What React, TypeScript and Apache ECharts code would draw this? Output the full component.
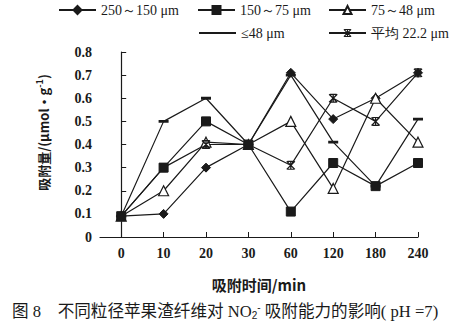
import React, { useEffect, useRef } from "react";
import * as echarts from "echarts";

const categories = ["0", "10", "20", "30", "60", "120", "180", "240"];
const seriesNames = ["250～150 μm", "150～75 μm", "75～48 μm", "≤48 μm", "平均 22.2 μm"];
const s250_150 = [0.09, 0.1, 0.3, 0.4, 0.71, 0.51, 0.6, 0.71];
const s150_75 = [0.09, 0.3, 0.5, 0.4, 0.11, 0.32, 0.22, 0.32];
const s75_48 = [0.09, 0.2, 0.41, 0.4, 0.5, 0.21, 0.6, 0.41];
const s48 = [0.09, 0.5, 0.6, 0.4, 0.7, 0.41, 0.22, 0.51];
const sAvg = [0.09, 0.3, 0.4, 0.4, 0.31, 0.6, 0.5, 0.71];
const yTicks = [0, 0.1, 0.2, 0.3, 0.4, 0.5, 0.6, 0.7, 0.8];

const INK = "#1a1a1a";
const STAR =
  "path://M4.3,0L5.7,0L5.7,10L4.3,10Z" +
  "M0,1L1,0L10,9L9,10Z" +
  "M9,0L10,1L1,10L0,9Z" +
  "M1.5,0L8.5,0L8.5,1.3L1.5,1.3Z" +
  "M1.5,8.7L8.5,8.7L8.5,10L1.5,10Z";
// flat bar; two invisible specks keep the path's box square
const DASH =
  "path://M0,0L0.01,0L0.01,0.01Z M0,10L0.01,10L0.01,9.99Z M0,3.6L10,3.6L10,6.4L0,6.4Z";

export default function App() {
  const ref = useRef<HTMLDivElement>(null);
  useEffect(() => {
    if (!ref.current) return;
    const chart = echarts.init(ref.current, null, { renderer: "svg" });
    const toPairs = (arr: number[]) => arr.map((v, i) => [i, v]);
    const base = (name: string, data: number[], extra: any) => ({
      name,
      type: "line",
      data: toPairs(data),
      lineStyle: { color: INK, width: 1.2 },
      itemStyle: { color: INK, borderColor: INK, borderWidth: 1 },
      ...extra,
    });
    const legendTextStyle = { fontFamily: "Liberation Serif", fontSize: 14, color: INK };
    const mkLegend = (item: any, left: number, top: number) => ({
      data: [item],
      left,
      top,
      itemWidth: 37,
      itemHeight: 10,
      itemGap: 0,
      padding: 0,
      textStyle: legendTextStyle,
    });
    const serifBold = { fontFamily: "Liberation Serif", fontWeight: "bold", fontSize: 14, color: INK };
    chart.setOption({
      animation: false,
      backgroundColor: "#fff",
      grid: { left: 100, right: 36, top: 52, bottom: 92 },
      legend: [
        mkLegend(seriesNames[0], 58, 3),
        mkLegend(seriesNames[1], 197, 3),
        mkLegend(seriesNames[2], 328, 3),
        mkLegend(seriesNames[3], 198, 26),
        mkLegend(seriesNames[4], 328, 26),
      ],
      xAxis: {
        type: "value",
        min: -0.5,
        max: categories.length - 1,
        splitLine: { show: false },
        axisLine: { show: true, onZero: false, lineStyle: { color: INK, width: 1.2 } },
        axisTick: {
          show: true,
          inside: true,
          length: 5,
          customValues: categories.map((_, i) => i),
          lineStyle: { color: INK },
        },
        axisLabel: {
          customValues: categories.map((_, i) => i),
          formatter: (v: number) => categories[Math.round(v)] ?? "",
          margin: 9,
          ...serifBold,
        },
        name: "吸附时间/min",
        nameLocation: "middle",
        nameGap: 40,
        nameTextStyle: { fontFamily: "Noto Sans CJK SC", fontWeight: "bold", fontSize: 15, color: INK },
      },
      yAxis: {
        type: "value",
        min: 0,
        max: 0.8,
        interval: 0.1,
        splitLine: { show: false },
        axisLine: { show: true, lineStyle: { color: INK, width: 1.2 } },
        axisTick: { show: true, inside: true, length: 5, lineStyle: { color: INK } },
        axisLabel: {
          margin: 8,
          formatter: (v: number) => {
            const t = yTicks.find((x) => Math.abs(x - v) < 1e-6);
            return t === undefined ? "" : String(t);
          },
          ...serifBold,
        },
        name: "吸附量/(μmol·g{sup|-1})",
        nameLocation: "middle",
        nameGap: 48,
        nameTextStyle: {
          fontFamily: "Noto Sans CJK SC",
          fontWeight: "bold",
          fontSize: 13,
          color: INK,
          padding: [0, 0, 0, 24],
          rich: { sup: { fontSize: 9, fontWeight: "bold", padding: [0, 0, 8, 0], color: INK } },
        },
      },
      graphic: [
        {
          type: "text",
          left: 12,
          top: 302,
          style: {
            text: "图 8    不同粒径苹果渣纤维对 NO{sub|2}{sup|-} 吸附能力的影响( pH =7)",
            fontFamily: "Liberation Serif, Noto Sans CJK SC",
            fontSize: 16.6,
            fill: INK,
            rich: {
              sub: { fontSize: 10, padding: [8, 0, 0, 0], fill: INK },
              sup: { fontSize: 10, padding: [0, 0, 8, 0], fill: INK },
            },
          },
        },
      ],
      series: [
        base(seriesNames[3], s48, { symbol: DASH, symbolSize: 10, itemStyle: { color: INK, borderWidth: 0 } }),
        base(seriesNames[0], s250_150, { symbol: "diamond", symbolSize: 9 }),
        base(seriesNames[2], s75_48, {
          symbol: "triangle",
          symbolSize: 10,
          itemStyle: { color: "#fff", borderColor: INK, borderWidth: 1.2 },
        }),
        base(seriesNames[4], sAvg, {
          symbol: STAR,
          symbolSize: 9,
          itemStyle: { color: INK, borderWidth: 0 },
        }),
        base(seriesNames[1], s150_75, { symbol: "rect", symbolSize: 9 }),
      ],
    });
    return () => chart.dispose();
  }, []);
  return <div ref={ref} style={{ width: 454, height: 329, position: "absolute", left: 0, top: 0 }} />;
}
